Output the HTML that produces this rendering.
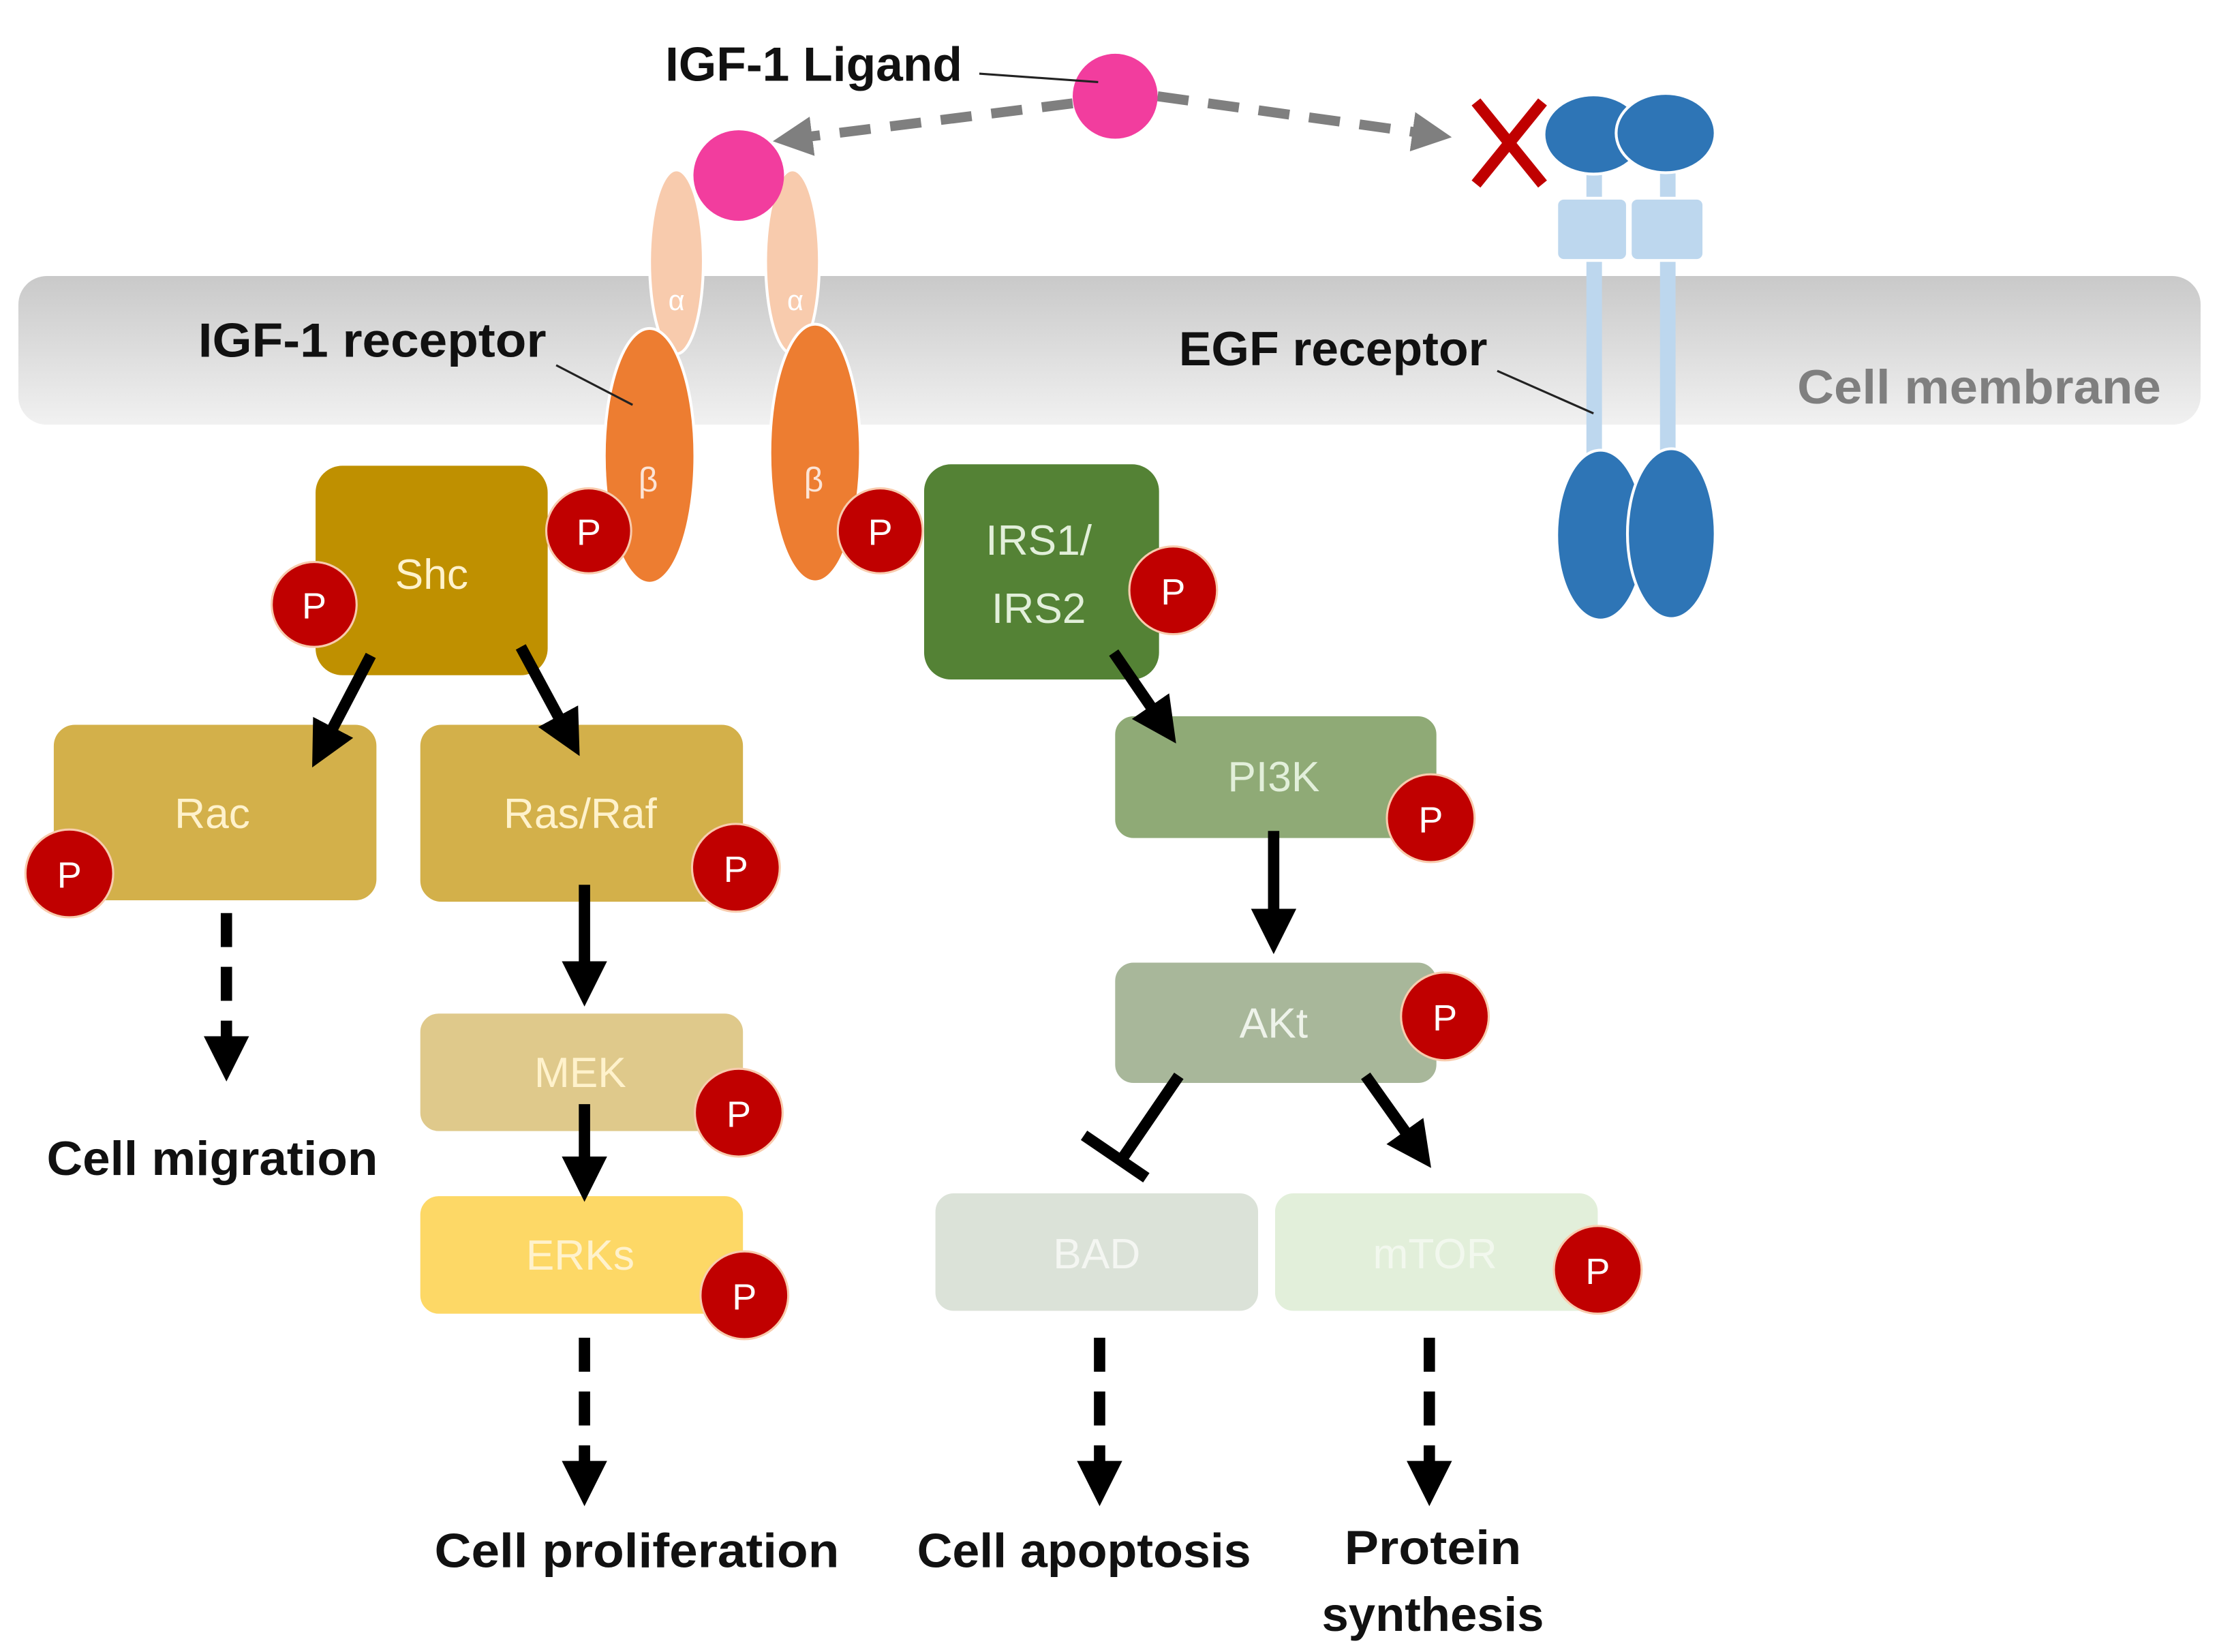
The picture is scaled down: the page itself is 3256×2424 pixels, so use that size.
<!DOCTYPE html>
<html><head><meta charset="utf-8"><style>
html,body{margin:0;padding:0;background:#fff;}
svg{display:block;}
text{font-family:"Liberation Sans",sans-serif;}
.lb{font-weight:bold;font-size:34px;fill:#111;}
.bx{font-size:30px;fill:#fff2cc;text-anchor:middle;}
.pt{font-size:26px;fill:#fff;text-anchor:middle;}
</style></head><body>
<svg width="3256" height="2424" viewBox="0 0 1568 1167" preserveAspectRatio="none" xmlns="http://www.w3.org/2000/svg">
<defs>
<linearGradient id="mem" x1="0" y1="0" x2="0" y2="1">
<stop offset="0" stop-color="#c9c9c9"/><stop offset="1" stop-color="#f1f1f1"/>
</linearGradient>
<marker id="ah" viewBox="0 0 10 10" refX="5" refY="5" markerWidth="4" markerHeight="4" orient="auto"><path d="M0,0L10,5L0,10z" fill="#000"/></marker>
<marker id="ahg" viewBox="0 0 10 10" refX="5" refY="5" markerWidth="4" markerHeight="4" orient="auto"><path d="M0,0L10,5L0,10z" fill="#7f7f7f"/></marker>
</defs>
<rect x="13" y="195" width="1542" height="105" rx="20" fill="url(#mem)"/>
<text x="1270" y="285" class="lb" fill="#7f7f7f" style="fill:#7f7f7f" textLength="257" lengthAdjust="spacingAndGlyphs">Cell membrane</text>

<!-- EGFR -->
<rect x="1121" y="122" width="11" height="200" fill="#bdd7ee"/>
<rect x="1173" y="122" width="11" height="200" fill="#bdd7ee"/>
<rect x="1100" y="140" width="50" height="44" rx="5" fill="#bdd7ee" stroke="#fff" stroke-width="2"/>
<rect x="1152" y="140" width="52" height="44" rx="5" fill="#bdd7ee" stroke="#fff" stroke-width="2"/>
<ellipse cx="1126" cy="95" rx="35" ry="28" fill="#2e75b6" stroke="#fff" stroke-width="2"/>
<ellipse cx="1177" cy="94" rx="35" ry="28" fill="#2e75b6" stroke="#fff" stroke-width="2"/>
<ellipse cx="1131" cy="378" rx="31" ry="60" fill="#2e75b6" stroke="#fff" stroke-width="2"/>
<ellipse cx="1181" cy="377" rx="31" ry="60" fill="#2e75b6" stroke="#fff" stroke-width="2"/>
<path d="M1043,72L1090,130M1090,72L1043,130" stroke="#c00000" stroke-width="8"/>

<!-- IGF-1R -->
<ellipse cx="478" cy="185" rx="19" ry="65" fill="#f8cbad" stroke="#fff" stroke-width="2"/>
<ellipse cx="560" cy="185" rx="19" ry="65" fill="#f8cbad" stroke="#fff" stroke-width="2"/>
<ellipse cx="459" cy="322" rx="32" ry="90" fill="#ed7d31" stroke="#fff" stroke-width="2"/>
<ellipse cx="576" cy="320" rx="32" ry="91" fill="#ed7d31" stroke="#fff" stroke-width="2"/>
<text x="478" y="219" font-size="20" fill="#fff" text-anchor="middle">α</text>
<text x="562" y="219" font-size="20" fill="#fff" text-anchor="middle">α</text>
<text x="458" y="347" font-size="24" fill="#fce4d6" text-anchor="middle">β</text>
<text x="575" y="347" font-size="24" fill="#fce4d6" text-anchor="middle">β</text>

<!-- ligand -->
<line x1="758" y1="73" x2="560" y2="98" stroke="#7f7f7f" stroke-width="7" stroke-dasharray="22,14" marker-end="url(#ahg)"/>
<line x1="818" y1="68" x2="1012" y2="95" stroke="#7f7f7f" stroke-width="7" stroke-dasharray="22,14" marker-end="url(#ahg)"/>
<circle cx="788" cy="68" r="30" fill="#f23d9e"/>
<circle cx="522" cy="124" r="32" fill="#f23d9e"/>
<text x="470" y="57" class="lb" textLength="210" lengthAdjust="spacingAndGlyphs">IGF-1 Ligand</text>
<line x1="692" y1="52" x2="776" y2="58" stroke="#222" stroke-width="1.5"/>
<text x="140" y="252" class="lb" textLength="246" lengthAdjust="spacingAndGlyphs">IGF-1 receptor</text>
<line x1="393" y1="258" x2="447" y2="286" stroke="#222" stroke-width="1.5"/>
<text x="833" y="258" class="lb" textLength="218" lengthAdjust="spacingAndGlyphs">EGF receptor</text>
<line x1="1058" y1="262" x2="1126" y2="292" stroke="#222" stroke-width="1.5"/>

<!-- boxes -->
<rect x="222" y="328" width="166" height="150" rx="20" fill="#bf9000" stroke="#fff" stroke-width="2"/>
<text x="305" y="416" class="bx">Shc</text>
<rect x="652" y="327" width="168" height="154" rx="20" fill="#548235" stroke="#fff" stroke-width="2"/>
<text x="734" y="392" class="bx" style="fill:#e2efda">IRS1/</text>
<text x="734" y="440" class="bx" style="fill:#e2efda">IRS2</text>
<rect x="37" y="511" width="230" height="126" rx="16" fill="#d3b04a" stroke="#fff" stroke-width="2"/>
<text x="150" y="585" class="bx">Rac</text>
<rect x="296" y="511" width="230" height="127" rx="16" fill="#d3b04a" stroke="#fff" stroke-width="2"/>
<text x="410" y="585" class="bx">Ras/Raf</text>
<rect x="296" y="715" width="230" height="85" rx="14" fill="#dfc98b" stroke="#fff" stroke-width="2"/>
<text x="410" y="768" class="bx">MEK</text>
<rect x="296" y="844" width="230" height="85" rx="14" fill="#fdd866" stroke="#fff" stroke-width="2"/>
<text x="410" y="897" class="bx">ERKs</text>
<rect x="787" y="505" width="229" height="88" rx="14" fill="#8faa76" stroke="#fff" stroke-width="2"/>
<text x="900" y="559" class="bx" style="fill:#e2efda">PI3K</text>
<rect x="787" y="679" width="229" height="87" rx="14" fill="#a8b79a" stroke="#fff" stroke-width="2"/>
<text x="900" y="733" class="bx" style="fill:#eef3ea">AKt</text>
<rect x="660" y="842" width="230" height="85" rx="14" fill="#dbe2d8" stroke="#fff" stroke-width="2"/>
<text x="775" y="896" class="bx" style="fill:#f4f6f2">BAD</text>
<rect x="900" y="842" width="230" height="85" rx="14" fill="#e2efda" stroke="#fff" stroke-width="2"/>
<text x="1014" y="896" class="bx" style="fill:#f2f8ee">mTOR</text>

<!-- solid arrows -->
<g stroke="#000" stroke-width="8" fill="none">
<line x1="262" y1="463" x2="228" y2="528" marker-end="url(#ah)"/>
<line x1="368" y1="457" x2="402" y2="520" marker-end="url(#ah)"/>
<line x1="413" y1="625" x2="413" y2="695" marker-end="url(#ah)"/>
<line x1="413" y1="780" x2="413" y2="833" marker-end="url(#ah)"/>
<line x1="787" y1="461" x2="822" y2="512" marker-end="url(#ah)"/>
<line x1="900" y1="587" x2="900" y2="658" marker-end="url(#ah)"/>
<line x1="965" y1="760" x2="1002" y2="812" marker-end="url(#ah)"/>
<line x1="833" y1="760" x2="792" y2="820"/>
<line x1="766" y1="802" x2="810" y2="832"/>
</g>
<!-- dashed arrows -->
<g stroke="#000" stroke-width="8" stroke-dasharray="24,14" fill="none">
<line x1="160" y1="645" x2="160" y2="748" marker-end="url(#ah)"/>
<line x1="413" y1="945" x2="413" y2="1048" marker-end="url(#ah)"/>
<line x1="777" y1="945" x2="777" y2="1048" marker-end="url(#ah)"/>
<line x1="1010" y1="945" x2="1010" y2="1048" marker-end="url(#ah)"/>
</g>

<!-- P circles -->
<g>
<circle cx="416" cy="375" r="30" fill="#c00000" stroke="#f8cbad" stroke-width="1.5"/><text x="416" y="385" class="pt">P</text>
<circle cx="222" cy="427" r="30" fill="#c00000" stroke="#f8cbad" stroke-width="1.5"/><text x="222" y="437" class="pt">P</text>
<circle cx="622" cy="375" r="30" fill="#c00000" stroke="#f8cbad" stroke-width="1.5"/><text x="622" y="385" class="pt">P</text>
<circle cx="829" cy="417" r="31" fill="#c00000" stroke="#f8cbad" stroke-width="1.5"/><text x="829" y="427" class="pt">P</text>
<circle cx="49" cy="617" r="31" fill="#c00000" stroke="#f8cbad" stroke-width="1.5"/><text x="49" y="627" class="pt">P</text>
<circle cx="520" cy="613" r="31" fill="#c00000" stroke="#f8cbad" stroke-width="1.5"/><text x="520" y="623" class="pt">P</text>
<circle cx="1011" cy="578" r="31" fill="#c00000" stroke="#f8cbad" stroke-width="1.5"/><text x="1011" y="588" class="pt">P</text>
<circle cx="1021" cy="718" r="31" fill="#c00000" stroke="#f8cbad" stroke-width="1.5"/><text x="1021" y="728" class="pt">P</text>
<circle cx="522" cy="786" r="31" fill="#c00000" stroke="#f8cbad" stroke-width="1.5"/><text x="522" y="796" class="pt">P</text>
<circle cx="526" cy="915" r="31" fill="#c00000" stroke="#f8cbad" stroke-width="1.5"/><text x="526" y="925" class="pt">P</text>
<circle cx="1129" cy="897" r="31" fill="#c00000" stroke="#f8cbad" stroke-width="1.5"/><text x="1129" y="907" class="pt">P</text>
</g>

<!-- outcome labels -->
<text x="33" y="830" class="lb" textLength="234" lengthAdjust="spacingAndGlyphs">Cell migration</text>
<text x="307" y="1107" class="lb" textLength="286" lengthAdjust="spacingAndGlyphs">Cell proliferation</text>
<text x="648" y="1107" class="lb" textLength="236" lengthAdjust="spacingAndGlyphs">Cell apoptosis</text>
<text x="950" y="1105" class="lb" textLength="125" lengthAdjust="spacingAndGlyphs">Protein</text>
<text x="934" y="1152" class="lb" textLength="157" lengthAdjust="spacingAndGlyphs">synthesis</text>
</svg>
</body></html>
